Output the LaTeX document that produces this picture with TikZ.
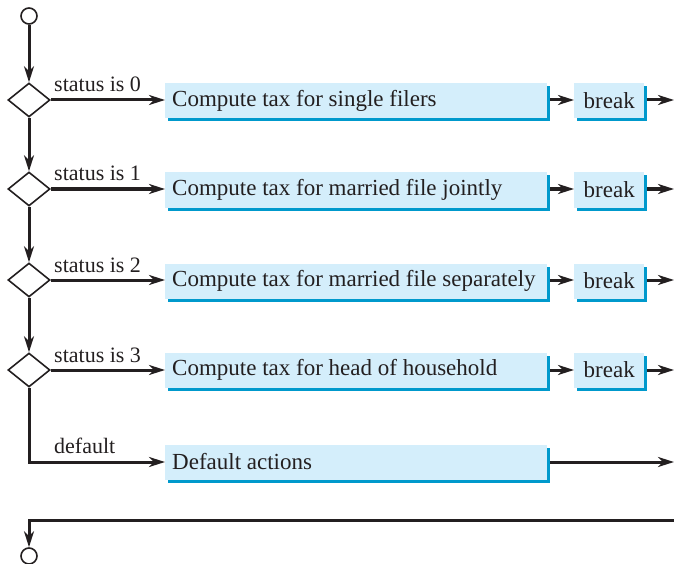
\documentclass[tikz,border=0pt]{standalone}
\usepackage{fontspec}
\setmainfont{Liberation Serif}
\usetikzlibrary{shapes.geometric,arrows.meta,shadows}
\definecolor{boxfill}{HTML}{D4EEFB}
\definecolor{boxshadow}{HTML}{0099CC}
\definecolor{ink}{HTML}{231F20}
\newcommand{\boxtext}[1]{\makebox[368pt][l]{#1}}
\begin{document}
\begin{tikzpicture}[x=1pt,y=-1pt,
  flow/.style={draw=ink,line width=3pt,-{Stealth[length=16pt,width=10pt,inset=5pt]}},
  actbox/.style={fill=boxfill,draw=none,minimum height=35pt,inner xsep=7pt,inner ysep=0pt,
     anchor=west,font=\fontsize{23}{26}\selectfont,text=ink,
     drop shadow={shadow xshift=3pt,shadow yshift=-3pt,fill=boxshadow,opacity=1}},
  wide/.style={actbox},
  brk/.style={actbox,minimum width=70pt,inner xsep=0pt},
  cond/.style={diamond,draw=ink,line width=1.6pt,fill=white,minimum width=42pt,minimum height=34pt,inner sep=0pt},
  term/.style={circle,draw=ink,line width=1.6pt,fill=white,minimum size=16pt,inner sep=0pt},
  lab/.style={font=\fontsize{22}{24}\selectfont,text=ink,anchor=base west,inner sep=0pt}]
\useasboundingbox (0,0) rectangle (674,564);

\node[term] (start) at (29,16) {};
\node[term] (stop) at (29,556) {};

\node[cond] (d0) at (29,100) {};
\node[cond] (d1) at (29,189) {};
\node[cond] (d2) at (29,280) {};
\node[cond] (d3) at (29,370) {};

\node[wide] (c0) at (165,101) {\boxtext{Compute tax for single filers}};
\node[wide] (c1) at (165,190) {\boxtext{Compute tax for married file jointly}};
\node[wide] (c2) at (165,281) {\boxtext{Compute tax for married file separately}};
\node[wide] (c3) at (165,370) {\boxtext{Compute tax for head of household}};
\node[wide] (c4) at (165,462) {\boxtext{Default actions}};

\node[brk] (b0) at (574,101) {break};
\node[brk] (b1) at (574,190) {break};
\node[brk] (b2) at (574,281) {break};
\node[brk] (b3) at (574,370) {break};

\coordinate (e0) at (674,100);
\coordinate (e1) at (674,189);
\coordinate (e2) at (674,280);
\coordinate (e3) at (674,370);
\coordinate (e4) at (674,462);
\coordinate (corner) at (29,462);
\coordinate (br) at (674,520);
\coordinate (bl) at (29,520);

\draw[flow] (start) -- (d0);
\draw[flow] (d0) -- (d1);
\draw[flow] (d1) -- (d2);
\draw[flow] (d2) -- (d3);

\draw[flow] (d0.east) -- (c0.west |- d0.east);
\draw[flow] (d1.east) -- (c1.west |- d1.east);
\draw[flow] (d2.east) -- (c2.west |- d2.east);
\draw[flow] (d3.east) -- (c3.west |- d3.east);
\draw[flow] (d3.south) -- (corner) -- (c4.west |- corner);

\draw[flow] ([xshift=3pt]c0.east |- d0) -- (b0.west |- d0);
\draw[flow] ([xshift=3pt]c1.east |- d1) -- (b1.west |- d1);
\draw[flow] ([xshift=3pt]c2.east |- d2) -- (b2.west |- d2);
\draw[flow] ([xshift=3pt]c3.east |- d3) -- (b3.west |- d3);

\draw[flow] ([xshift=3pt]b0.east |- d0) -- (e0);
\draw[flow] ([xshift=3pt]b1.east |- d1) -- (e1);
\draw[flow] ([xshift=3pt]b2.east |- d2) -- (e2);
\draw[flow] ([xshift=3pt]b3.east |- d3) -- (e3);
\draw[flow] ([xshift=3pt]c4.east |- corner) -- (e4);

\draw[flow] (br) -- (bl) -- (stop);

\node[lab] (l0) at (54,92) {status is 0};
\node[lab] (l1) at (54,181) {status is 1};
\node[lab] (l2) at (54,272) {status is 2};
\node[lab] (l3) at (54,362) {status is 3};
\node[lab] (l4) at (54,453) {default};
\end{tikzpicture}
\end{document}
